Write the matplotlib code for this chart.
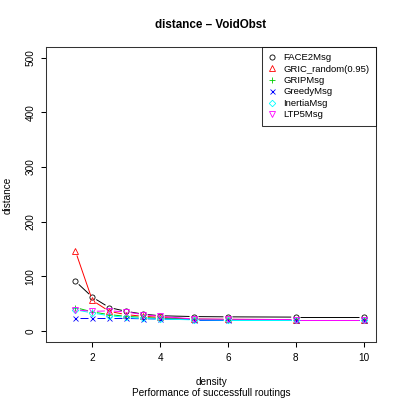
import matplotlib
matplotlib.use("Agg")
import matplotlib.pyplot as plt
import numpy as np

plt.rcParams["font.family"] = ["Liberation Sans", "DejaVu Sans"]

density = [1.5, 2, 2.5, 3, 3.5, 4, 5, 6, 8, 10]
face2 = [91, 62, 43, 36, 31, 28, 26.5, 26, 25.5, 25.5]
gric = [146, 56, 36, 30, 27, 25, 22, 21.5, 21, 21]
grip = [43, 35, 30, 27, 25, 23, 21.5, 21, 20.5, 20.5]
greedy = [23, 23, 23, 23, 22.5, 22, 21, 21, 21, 21]
inertia = [39, 33, 28, 25, 23, 22, 20.5, 20, 20, 20]
ltp5 = [39, 36, 37, 35, 30, 27, 22, 21.5, 21, 21]

labels = ["FACE2Msg", "GRIC_random(0.95)", "GRIPMsg", "GreedyMsg", "InertiaMsg", "LTP5Msg"]
series = [face2, gric, grip, greedy, inertia, ltp5]
colors = ["black", "#FF0000", "#00CD00", "#0000FF", "#00FFFF", "#FF00FF"]
markers = ["o", "^", "+", "x", "D", "v"]
msizes = [3.7, 4.2, 4.8, 3.6, 3.3, 4.2]

fig = plt.figure(figsize=(3.99, 4.0), dpi=100)
ax = fig.add_axes([46.3 / 399, 1 - 342 / 400, (375.7 - 46.3) / 399, (342 - 46.7) / 400])
ax.set_xlim(0.64, 10.36)
ax.set_ylim(-20, 520)


def draw_gapped(ax, xs, ys, color, gap=4.5):
    # R type="b": line segments stop short of each point
    pts = ax.transData.transform(np.column_stack([xs, ys]))
    inv = ax.transData.inverted()
    for p0, p1 in zip(pts[:-1], pts[1:]):
        d = p1 - p0
        L = np.hypot(*d)
        if L <= 2 * gap:
            continue
        u = d / L
        a = inv.transform(p0 + u * gap)
        b = inv.transform(p1 - u * gap)
        ax.plot([a[0], b[0]], [a[1], b[1]], color=color, lw=0.7, solid_capstyle="butt")


handles = []
for ys, c, m, ms, lab in zip(series, colors, markers, msizes, labels):
    draw_gapped(ax, density, ys, c)
    h, = ax.plot(density, ys, linestyle="none", marker=m, markersize=ms,
                 markerfacecolor="none", markeredgecolor=c, markeredgewidth=0.6,
                 label=lab)
    handles.append(h)

ax.set_xticks([2, 4, 6, 8, 10])
ax.set_yticks([0, 100, 200, 300, 400, 500])
ax.tick_params(direction="out", length=3.4, width=0.75, labelsize=7.2, pad=4.5, colors="black")
for lab in ax.get_yticklabels():
    lab.set_rotation(90)
    lab.set_va("center")
for s in ax.spines.values():
    s.set_linewidth(0.75)
    s.set_color("#333333")

leg = ax.legend(handles=handles, loc="upper right", bbox_to_anchor=(1, 1),
                borderaxespad=0, fontsize=6.8, frameon=True, fancybox=False,
                edgecolor="black", handlelength=0.8, handletextpad=0.75,
                labelspacing=0.26, borderpad=0.68, markerscale=1.0)
leg.get_frame().set_linewidth(0.75)

fig.text(211 / 399, 1 - 25 / 400, "distance \u2013 VoidObst", ha="center", va="center",
         fontsize=8.4, fontweight="bold")
fig.text(211 / 399, 1 - 382 / 400, "density", ha="center", va="center", fontsize=7.2)
fig.text(211 / 399, 1 - 393 / 400, "Performance of successfull routings", ha="center",
         va="center", fontsize=7.2)
fig.text(8 / 399, 1 - 195 / 400, "distance", ha="center", va="center", rotation=90,
         fontsize=7.2)

fig.savefig("out.png", dpi=100)
